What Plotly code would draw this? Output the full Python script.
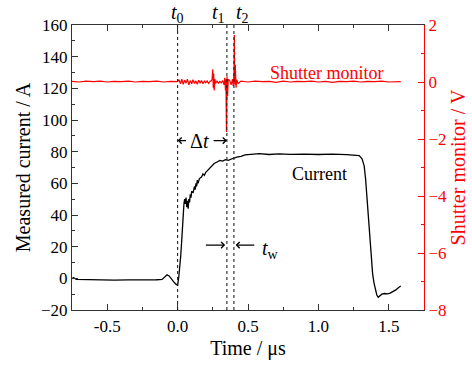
import plotly.graph_objects as go

# ---- data ----
current_t = [-0.75, -0.74, -0.72, -0.65, -0.55, -0.45, -0.35, -0.25, -0.15, -0.11, -0.09, -0.075,
             -0.06, -0.045, -0.025, -0.01, 0.0, 0.008, 0.015, 0.022, 0.028, 0.033, 0.036, 0.04,
             0.045, 0.05, 0.055, 0.06, 0.065, 0.07, 0.075, 0.08, 0.085, 0.09, 0.095, 0.10, 0.11,
             0.12, 0.125, 0.13, 0.135, 0.14, 0.145, 0.155, 0.17, 0.18, 0.19, 0.20, 0.22, 0.24,
             0.26, 0.28, 0.30, 0.32, 0.34, 0.36, 0.38, 0.40, 0.42, 0.45, 0.48, 0.52, 0.58, 0.65,
             0.72, 0.80, 0.90, 1.00, 1.10, 1.20, 1.26, 1.29, 1.31, 1.325, 1.335, 1.345, 1.355,
             1.365, 1.375, 1.385, 1.395, 1.405, 1.415, 1.425, 1.435, 1.45, 1.47, 1.49, 1.51,
             1.53, 1.55, 1.57, 1.585]
current_a = [-0.3, 0.5, -0.6, -0.8, -1.0, -1.1, -1.0, -1.1, -0.9, -0.7, 0.8, 2.2,
             1.5, -0.5, -2.5, -3.8, -4.3, 0.5, 6, 14, 22, 31, 30, 38,
             47, 50, 47, 51, 45, 49, 44, 50, 48, 53, 51, 55, 54,
             58, 56, 60, 58, 62, 60, 63, 64, 66, 65, 67, 69, 71,
             72.5, 73.5, 74.5, 74, 75, 74.5, 75.5, 76, 76.5, 77, 78, 78.5, 78.8, 78.2,
             78.6, 78.3, 78.5, 78.2, 78.4, 78.1, 78.0, 77.5, 75.5, 71, 63, 50, 36,
             23, 12, 3, -3, -7, -10.5, -12, -11.3, -10, -9.6, -9.8, -9.3,
             -8.5, -7.3, -5.8, -4.8]

shutter_t = [-0.75, -0.70, -0.65, -0.60, -0.55, -0.50, -0.45, -0.40, -0.35, -0.30, -0.25, -0.20,
             -0.15, -0.10, -0.05, 0.00, 0.01, 0.02, 0.03, 0.04, 0.05, 0.06, 0.07, 0.08, 0.09,
             0.10, 0.11, 0.12, 0.13, 0.14, 0.15, 0.16, 0.17, 0.18, 0.19, 0.20, 0.21, 0.22, 0.23,
             0.24, 0.245, 0.25, 0.253, 0.256, 0.26, 0.265, 0.27, 0.28, 0.29, 0.30, 0.31, 0.32,
             0.33, 0.335, 0.34, 0.343, 0.347, 0.351, 0.355, 0.36, 0.37, 0.38, 0.39, 0.395, 0.40,
             0.403, 0.406, 0.41, 0.415, 0.42, 0.43, 0.45, 0.50, 0.55, 0.60, 0.65, 0.70, 0.75,
             0.80, 0.85, 0.90, 0.95, 1.00, 1.05, 1.10, 1.15, 1.20, 1.25, 1.30, 1.35, 1.40, 1.45,
             1.50, 1.55, 1.585]
shutter_v = [0.02, 0.0, 0.03, 0.01, 0.03, 0.0, 0.02, 0.01, 0.03, 0.0, 0.02, 0.01,
             0.03, 0.0, 0.02, 0.01, 0.08, -0.06, 0.10, -0.08, 0.06, -0.04, 0.10, -0.10, 0.05,
             -0.06, 0.08, -0.05, 0.04, -0.08, 0.06, -0.04, 0.05, -0.06, 0.03, -0.03, 0.04, -0.05, 0.02,
             0.05, 0.10, 0.45, -0.20, 0.30, -0.30, 0.10, -0.05, 0.03, -0.04, 0.02, -0.03, 0.05,
             -0.10, 0.15, -0.30, 0.10, -1.75, 0.20, -0.50, 0.10, 0.05, -0.10, 0.10, -0.15, 0.30,
             1.65, -0.10, 0.60, -0.20, 0.08, -0.05, 0.03, 0.0, 0.03, 0.01, 0.02, -0.01, 0.03,
             0.0, 0.02, 0.01, 0.03, 0.0, 0.02, -0.01, 0.02, 0.01, 0.03, 0.0, 0.02, 0.01, 0.03,
             0.0, 0.02, 0.01]

marker_times = [0.0, 0.35, 0.40]
marker_labels = ["<i>t</i><sub>0</sub>", "<i>t</i><sub>1</sub>", "<i>t</i><sub>2</sub>"]

x_ticks = [-0.5, 0.0, 0.5, 1.0, 1.5]
x_tick_text = ["-0.5", "0.0", "0.5", "1.0", "1.5"]

FONT = "Liberation Serif"
AX = "#333333"
RED = "#ff0000"

fig = go.Figure()
fig.add_trace(go.Scatter(x=shutter_t, y=shutter_v, mode="lines", yaxis="y2",
                         line=dict(color=RED, width=1.2), showlegend=False))
fig.add_trace(go.Scatter(x=current_t, y=current_a, mode="lines",
                         line=dict(color="black", width=1.3), showlegend=False))

anchors = ["center", "right", "left"]
for t, lab, anc in zip(marker_times, marker_labels, anchors):
    fig.add_shape(type="line", xref="x", yref="paper", x0=t, x1=t, y0=0, y1=1,
                  line=dict(color="#222222", width=1.1, dash="dot"))
    fig.add_annotation(x=t, y=1, xref="x", yref="paper", text=lab, showarrow=False,
                       xanchor=anc, yanchor="bottom", yshift=-3,
                       font=dict(family=FONT, size=20, color="black"))

# Delta t
fig.add_annotation(x=0.155, y=87, xref="x", yref="y", text="Δ<i>t</i>", showarrow=False,
                   font=dict(family=FONT, size=20, color="black"))
arrow = dict(showarrow=True, arrowhead=4, arrowsize=1.1, arrowwidth=1.1, arrowcolor="black",
             axref="x", ayref="y", xref="x", yref="y", text="")
fig.add_annotation(x=marker_times[0], y=87, ax=0.07, ay=87, **arrow)
fig.add_annotation(x=marker_times[1], y=87, ax=0.245, ay=87, **arrow)
# t_w
fig.add_annotation(x=marker_times[1] - 0.012, y=21, ax=0.19, ay=21, **arrow)
fig.add_annotation(x=marker_times[2] + 0.012, y=21, ax=0.555, ay=21, **arrow)
fig.add_annotation(x=0.585, y=18, xref="x", yref="y", text="<i>t</i><sub>w</sub>", showarrow=False,
                   xanchor="left", font=dict(family=FONT, size=20, color="black"))

fig.add_annotation(x=1.06, y=130, xref="x", yref="y", text="Shutter monitor", showarrow=False,
                   font=dict(family=FONT, size=18, color=RED))
fig.add_annotation(x=1.01, y=66, xref="x", yref="y", text="Current", showarrow=False,
                   font=dict(family=FONT, size=18, color="black"))

fig.update_layout(
    width=472, height=367,
    margin=dict(l=72, r=48, t=25, b=57),
    paper_bgcolor="white", plot_bgcolor="white",
    font=dict(family=FONT, size=17, color="black"),
    xaxis=dict(range=[-0.75, 1.75], tickvals=x_ticks, ticktext=x_tick_text,
               ticks="inside", ticklen=6, tickwidth=1, tickcolor=AX,
               minor=dict(dtick=0.25, ticks="inside", ticklen=3, tickcolor=AX),
               showline=True, linecolor=AX, linewidth=1.2, mirror="ticks",
               showgrid=False, zeroline=False,
               title=dict(text="Time / μs", font=dict(size=20), standoff=6),
               automargin=False),
    yaxis=dict(range=[-20, 160], dtick=20, tick0=0,
               ticks="inside", ticklen=6, tickwidth=1, tickcolor=AX,
               minor=dict(dtick=10, ticks="inside", ticklen=3, tickcolor=AX),
               showline=True, linecolor=AX, linewidth=1.2,
               showgrid=False, zeroline=False,
               title=dict(text="Measured current / A", font=dict(size=20), standoff=4),
               automargin=False),
    yaxis2=dict(range=[-8, 2], dtick=2, tick0=0, overlaying="y", side="right",
                ticks="inside", ticklen=6, tickwidth=1, tickcolor=RED,
                minor=dict(dtick=1, ticks="inside", ticklen=3, tickcolor=RED),
                showline=True, linecolor=RED, linewidth=1.2,
                tickfont=dict(color=RED), showgrid=False, zeroline=False,
                title=dict(text="Shutter monitor / V", font=dict(size=20, color=RED), standoff=4),
                automargin=False),
)

fig.write_html("out.html")
